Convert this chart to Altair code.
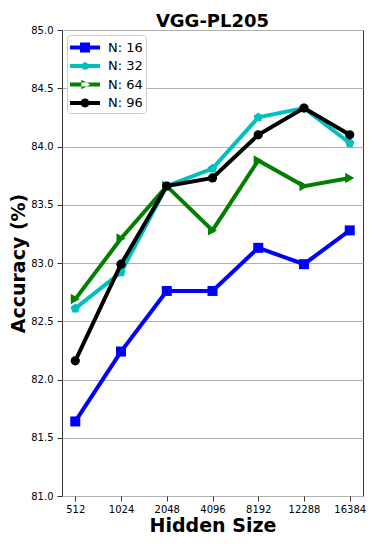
import altair as alt
import pandas as pd

title_text = "VGG-PL205"
sizes = ["512", "1024", "2048", "4096", "8192", "12288", "16384"]
n16 = [81.64, 82.24, 82.76, 82.76, 83.13, 82.99, 83.28]
n32 = [82.61, 82.92, 83.66, 83.81, 84.25, 84.33, 84.03]
n64 = [82.69, 83.21, 83.66, 83.28, 83.88, 83.66, 83.73]
n96 = [82.16, 82.99, 83.66, 83.73, 84.10, 84.33, 84.10]

names = ["N: 16", "N: 32", "N: 64", "N: 96"]
colors = ["#0000ff", "#00bfbf", "#008000", "#000000"]
series = [n16, n32, n64, n96]

pent = "M0,-1L0.951,-0.309L0.588,0.809L-0.588,0.809L-0.951,-0.309Z"
shapes = ["square", pent, "triangle-right", "circle"]
msizes = [100, 95, 110, 85]

# legend glyphs: a line plus the marker (units of symbol radius 9.5 px)
bar = "M-1,-0.21H2.16V0.21H-1Z"
leg_marks = [
    "M0.05,-0.53H1.11V0.53H0.05Z",
    "M0.58,-0.45L1.008,-0.139L0.845,0.364L0.315,0.364L0.152,-0.139Z",
    "M1.13,0L0.2,-0.5L0.2,0.5Z",
    "M1.05,0A0.47,0.47 0 1,1 0.11,0A0.47,0.47 0 1,1 1.05,0Z",
]
leg_paths = [bar + m for m in leg_marks]

rows = []
for nm, vals in zip(names, series):
    for s, v in zip(sizes, vals):
        rows.append({"size": s, "acc": v, "N": nm})
df = pd.DataFrame(rows)

x = alt.X("size:O", sort=sizes,
          scale=alt.Scale(type="point", padding=0.29),
          axis=alt.Axis(title="Hidden Size", labelAngle=0, grid=False,
                        titleFontSize=19, titleFontWeight="bold",
                        titleBaseline="alphabetic", titleY=35,
                        labelPadding=3))
y = alt.Y("acc:Q",
          scale=alt.Scale(domain=[81, 85], nice=False, zero=False),
          axis=alt.Axis(title="Accuracy (%)", format=".1f",
                        values=[81, 81.5, 82, 82.5, 83, 83.5, 84, 84.5, 85],
                        grid=True, gridColor="#b0b0b0", gridWidth=1,
                        titleFontSize=19, titleFontWeight="bold",
                        titleBaseline="alphabetic", titleX=-38, titleY=233,
                        labelPadding=4))

layers = []
for nm, col, shp, ms in zip(names, colors, shapes, msizes):
    base = alt.Chart(df).transform_filter(alt.datum.N == nm)
    layers.append(base.mark_line(color=col, strokeWidth=4).encode(x=x, y=y))
    layers.append(base.mark_point(color=col, shape=shp, size=ms, filled=True,
                                  opacity=1).encode(x=x, y=y))

legend_layer = alt.Chart(df).transform_filter("false").mark_point(
    filled=True, opacity=1).encode(
    color=alt.Color("N:N", scale=alt.Scale(domain=names, range=colors),
                    legend=alt.Legend(title=None, orient="top-left",
                                      offset=5, padding=3,
                                      fillColor="white", strokeColor="#cccccc",
                                      cornerRadius=3, labelFontSize=13,
                                      symbolSize=361, symbolStrokeWidth=0,
                                      rowPadding=1.5, labelOffset=19,
                                      labelColor="#000000")),
    shape=alt.Shape("N:N", scale=alt.Scale(domain=names, range=leg_paths)),
)

title_layer = alt.Chart(pd.DataFrame({"t": [title_text]})).mark_text(
    fontSize=18, fontWeight="bold", font="DejaVu Sans", color="#000000",
    baseline="alphabetic", align="center").encode(
    text="t:N", x=alt.value(150.5), y=alt.value(-3))

chart = alt.layer(*layers, legend_layer, title_layer).properties(
    width=301, height=466,
    autosize="none",
    padding={"left": 54, "top": 22, "right": 3, "bottom": 40},
).configure(font="DejaVu Sans").configure_view(
    stroke="#333333", strokeWidth=1
).configure_axis(
    domain=False, tickColor="#333333", tickSize=5,
    labelFontSize=10, labelColor="#000000", titleColor="#000000",
    labelFont="DejaVu Sans", titleFont="DejaVu Sans",
)

chart.save("out.html", embed_options={"renderer": "svg", "actions": False})
